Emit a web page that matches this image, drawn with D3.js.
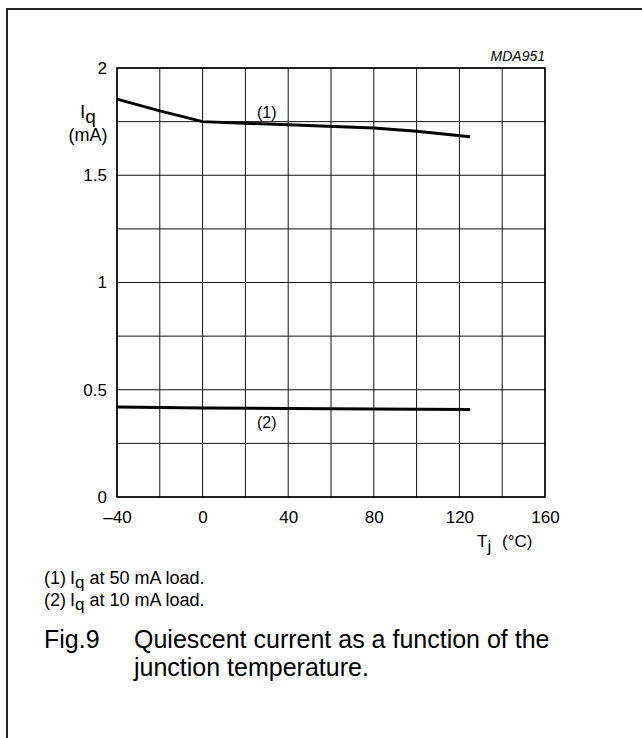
<!DOCTYPE html>
<html>
<head>
<meta charset="utf-8">
<script src="https://cdn.jsdelivr.net/npm/d3@7"></script>
<style>
html,body{margin:0;padding:0;background:#fff;}
svg{display:block;font-family:"Liberation Sans",Arial,Helvetica,sans-serif;}
</style>
</head>
<body>
<svg id="chart" width="642" height="738"></svg>
<script>
// Data
const temps1 = [-40, -20, 0, 40, 80, 100, 125];
const iq50 = [1.855, 1.80, 1.75, 1.735, 1.72, 1.705, 1.68];
const temps2 = [-40, 0, 40, 80, 125];
const iq10 = [0.42, 0.415, 0.413, 0.41, 0.408];
const xTicks = [-40, 0, 40, 80, 120, 160];
const yTicks = [0, 0.5, 1, 1.5, 2];
const xGrid = d3.range(-40, 161, 20);
const yGrid = d3.range(0, 2.01, 0.25);

const svg = d3.select("#chart");
const FONT = "Liberation Sans, Arial, sans-serif";

// outer frame
svg.append("path").attr("d", "M7,738 L7,9 L642,9")
  .attr("fill", "none").attr("stroke", "#222").attr("stroke-width", 2);

const x = d3.scaleLinear().domain([-40, 160]).range([117, 545]);
const y = d3.scaleLinear().domain([0, 2]).range([497, 68]);

// grid
const g = svg.append("g");
g.selectAll("line.vg").data(xGrid).join("line")
  .attr("x1", d => x(d)).attr("x2", d => x(d))
  .attr("y1", y(0)).attr("y2", y(2))
  .attr("stroke", "#111").attr("stroke-width", 1);
g.selectAll("line.hg").data(yGrid).join("line")
  .attr("y1", d => y(d)).attr("y2", d => y(d))
  .attr("x1", x(-40)).attr("x2", x(160))
  .attr("stroke", "#111").attr("stroke-width", 1);
g.append("rect").attr("x", x(-40)).attr("y", y(2))
  .attr("width", x(160) - x(-40)).attr("height", y(0) - y(2))
  .attr("fill", "none").attr("stroke", "#000").attr("stroke-width", 1.5);

// axes labels via d3 axes
const fmt = d => d < 0 ? "\u2013" + Math.abs(d) : String(d);
const xAxis = svg.append("g").attr("transform", `translate(0,${y(0)})`)
  .call(d3.axisBottom(x).tickValues(xTicks).tickSize(0).tickPadding(14).tickFormat(fmt));
xAxis.select(".domain").remove();
xAxis.selectAll("text").attr("font-size", 17).attr("fill", "#000").attr("font-family", FONT);

const yAxis = svg.append("g").attr("transform", `translate(${x(-40)},0)`)
  .call(d3.axisLeft(y).tickValues(yTicks).tickSize(0).tickPadding(10).tickFormat(d => String(d)));
yAxis.select(".domain").remove();
yAxis.selectAll("text").attr("font-size", 17).attr("fill", "#000").attr("font-family", FONT);

// curves
const line = d3.line().x(d => x(d[0])).y(d => y(d[1]));
svg.append("path").datum(temps1.map((t, i) => [t, iq50[i]]))
  .attr("d", line).attr("fill", "none").attr("stroke", "#000").attr("stroke-width", 3);
svg.append("path").datum(temps2.map((t, i) => [t, iq10[i]]))
  .attr("d", line).attr("fill", "none").attr("stroke", "#000").attr("stroke-width", 3);

// curve labels
svg.append("text").attr("x", x(30)).attr("y", y(1.79) + 5).attr("text-anchor", "middle")
  .attr("font-size", 16).text("(1)");
svg.append("text").attr("x", x(30)).attr("y", y(0.343) + 5).attr("text-anchor", "middle")
  .attr("font-size", 16).text("(2)");

// code label
svg.append("text").attr("x", 545).attr("y", 61).attr("text-anchor", "end")
  .attr("font-size", 14).attr("font-style", "italic").text("MDA951");

// y axis title
const yt = svg.append("text").attr("x", 80).attr("y", 118).attr("font-size", 19);
yt.append("tspan").text("I");
yt.append("tspan").attr("dy", 5).text("q");
svg.append("text").attr("x", 88).attr("y", 141).attr("text-anchor", "middle")
  .attr("font-size", 18).text("(mA)");

// x axis title
const xt = svg.append("text").attr("y", 547).attr("font-size", 17);
xt.append("tspan").attr("x", 477).text("T");
xt.append("tspan").attr("dy", 5).text("j");
xt.append("tspan").attr("dy", -5).attr("x", 502).text("(\u00B0C)");

// notes
function note(yy, num, load) {
  const t = svg.append("text").attr("x", 44).attr("y", yy).attr("font-size", 18);
  t.append("tspan").text(num);
  t.append("tspan").attr("x", 70).text("I");
  t.append("tspan").attr("dy", 4).attr("font-size", 17).text("q");
  t.append("tspan").attr("dy", -4).text(" at " + load + " load.");
}
note(584, "(1)", "50 mA");
note(606, "(2)", "10 mA");

// caption
svg.append("text").attr("x", 44).attr("y", 648).attr("font-size", 25).text("Fig.9");
svg.append("text").attr("x", 134).attr("y", 648).attr("font-size", 25).text("Quiescent current as a function of the");
svg.append("text").attr("x", 134).attr("y", 676).attr("font-size", 25).text("junction temperature.");
</script>
</body>
</html>
